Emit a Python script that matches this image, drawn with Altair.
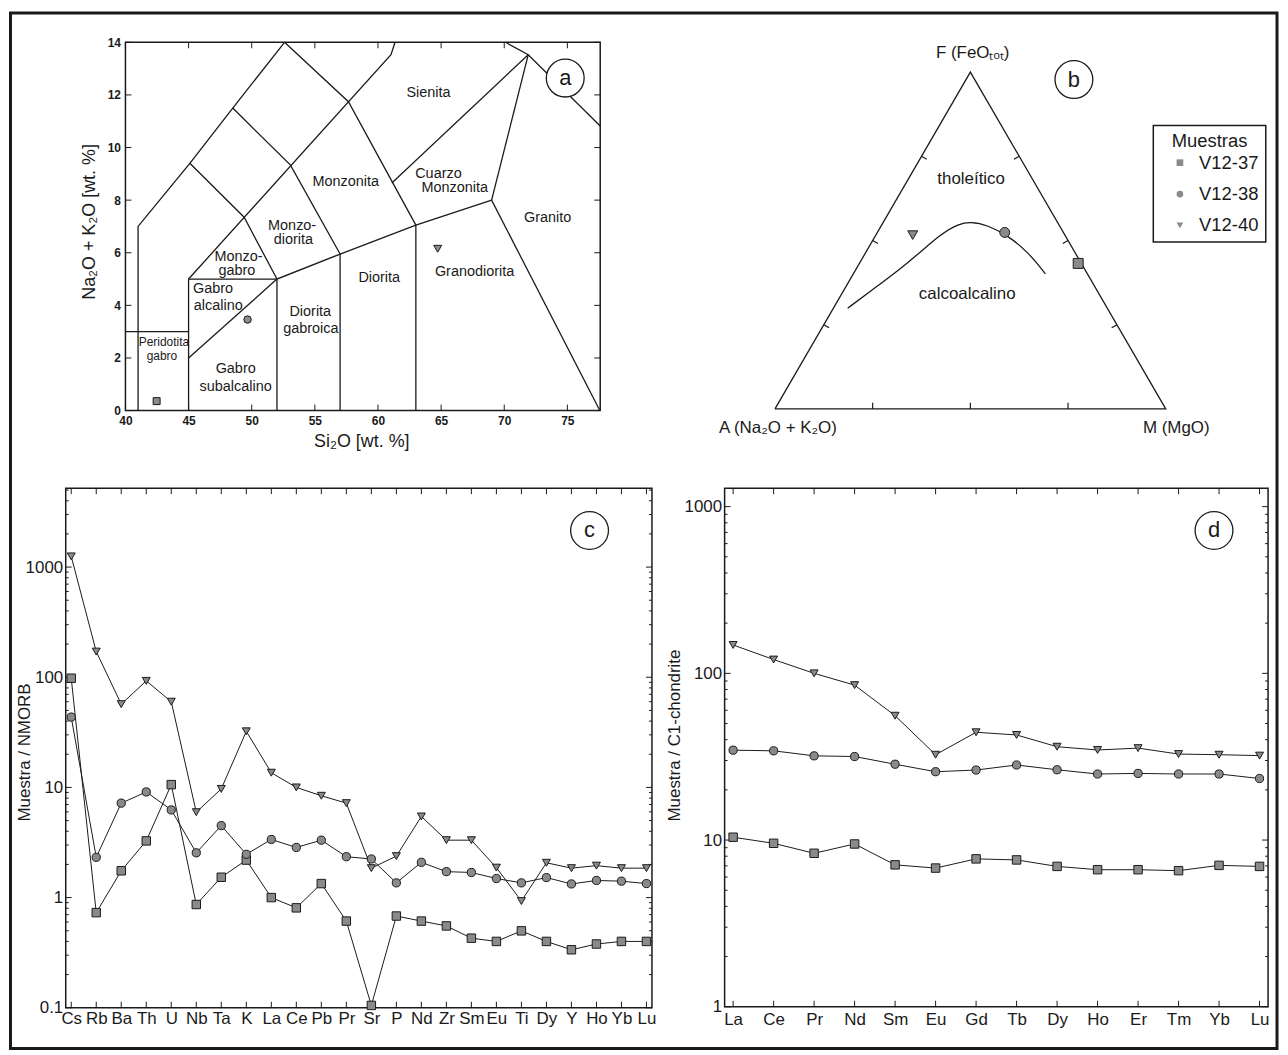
import altair as alt
import numpy as np
import pandas as pd

FONT = "Liberation Sans"
INK = "#1a1a1a"
GREY = "#8a8a8a"

SAMPLES = ["V12-37", "V12-38", "V12-40"]
SHAPES = ["square", "circle", "triangle-down"]

# ---------------- (a) TAS diagram ----------------
TAS_SIO2 = [42.47, 49.67, 64.73]
TAS_ALK = [0.36, 3.46, 6.15]

TAS_FIELD_LINES = [
    [(41, 0), (41, 7), (45.1, 9.4), (48.5, 11.5), (52.6, 14)],
    [(40, 3), (45, 3)],
    [(45, 0), (45, 5), (52, 5)],
    [(45, 2), (52, 5)],
    [(52, 0), (52, 5), (57, 5.95), (63, 7.05), (69, 8)],
    [(45, 5), (61.03, 13.53), (61.35, 14)],
    [(45.1, 9.4), (49.4, 7.35), (52, 5)],
    [(48.5, 11.5), (53.07, 9.33), (57, 5.95)],
    [(52.6, 14), (57.66, 11.74), (63, 7.05)],
    [(57, 0), (57, 5.95)],
    [(63, 0), (63, 7.05)],
    [(61.1, 8.65), (71.9, 13.53)],
    [(69, 8), (71.9, 13.53)],
    [(69, 8), (77.57, 0)],
    [(70.1, 14), (71.9, 13.53), (77.6, 10.82)],
]

TAS_LABELS = [
    ("Sienita", 64.0, 12.06),
    ("Monzonita", 57.44, 8.70),
    ("Cuarzo", 64.79, 9.0),
    ("Monzonita", 66.08, 8.47),
    ("Granito", 73.43, 7.32),
    ("Monzo-", 53.2, 7.03),
    ("diorita", 53.3, 6.50),
    ("Monzo-", 48.96, 5.84),
    ("gabro", 48.83, 5.31),
    ("Diorita", 60.1, 5.04),
    ("Granodiorita", 67.65, 5.26),
    ("Gabro", 46.94, 4.63),
    ("alcalino", 47.35, 3.97),
    ("Diorita", 54.64, 3.75),
    ("gabroica", 54.68, 3.09),
    ("Gabro", 48.73, 1.58),
    ("subalcalino", 48.73, 0.91),
]
TAS_SMALL_LABELS = [("Peridotita", 43.05, 2.60), ("gabro", 42.89, 2.07)]
TAS_X_TICKS = [40, 45, 50, 55, 60, 65, 70, 75]
TAS_Y_TICKS = [0, 2, 4, 6, 8, 10, 12, 14]
TAS_X_RANGE = [40, 77.6]
TAS_Y_RANGE = [0, 14]

# ---------------- (b) AFM diagram (ternary %) ----------------
AFM_A = [0.8, 15.0, 38.95]
AFM_F = [43.2, 52.4, 51.6]
AFM_M = [56.0, 32.6, 9.45]

CURVE_A = [66.45, 58.85, 45.3, 31.0, 25.55, 22.2, 18.3, 14.6, 11.85, 10.75]
CURVE_F = [29.9, 34.5, 42.6, 52.4, 54.9, 55.6, 54.6, 51.4, 46.3, 40.1]
CURVE_M = [3.65, 6.65, 12.1, 16.6, 19.55, 22.2, 27.1, 34.0, 41.85, 49.15]

AFM_TEXT = [
    ("F (FeOₜₒₜ)", 50.6, 91.6),
    ("tholeítico", 50.2, 59.0),
    ("calcoalcalino", 49.2, 29.6),
    ("A (Na₂O + K₂O)", 0.74, -4.97),
    ("M (MgO)", 102.7, -4.97),
]

# ---------------- (c) NMORB-normalised spider diagram ----------------
SPIDER_ELEMS = ["Cs", "Rb", "Ba", "Th", "U", "Nb", "Ta", "K", "La", "Ce", "Pb", "Pr",
                "Sr", "P", "Nd", "Zr", "Sm", "Eu", "Ti", "Dy", "Y", "Ho", "Yb", "Lu"]
SP_37 = [98, 0.73, 1.75, 3.27, 10.6, 0.865, 1.53, 2.19, 1.0, 0.807, 1.34, 0.612,
         0.105, 0.68, 0.612, 0.553, 0.428, 0.40, 0.499, 0.40, 0.336, 0.379, 0.40, 0.40]
SP_38 = [43.5, 2.32, 7.2, 9.1, 6.25, 2.55, 4.5, 2.47, 3.37, 2.85, 3.32, 2.35,
         2.24, 1.36, 2.09, 1.72, 1.69, 1.49, 1.36, 1.52, 1.33, 1.43, 1.41, 1.34]
SP_40 = [1250, 171, 57, 92.7, 60, 5.96, 9.7, 32.3, 13.6, 10.0, 8.4, 7.2,
         1.85, 2.38, 5.45, 3.32, 3.32, 1.87, 0.93, 2.07, 1.85, 1.95, 1.85, 1.85]

# ---------------- (d) chondrite-normalised REE ----------------
REE_ELEMS = ["La", "Ce", "Pr", "Nd", "Sm", "Eu", "Gd", "Tb", "Dy", "Ho", "Er", "Tm", "Yb", "Lu"]
REE_37 = [10.4, 9.56, 8.33, 9.47, 7.1, 6.79, 7.71, 7.6, 6.95, 6.64, 6.64, 6.55, 7.05, 6.95]
REE_38 = [34.6, 34.3, 32.0, 31.7, 28.5, 25.7, 26.3, 28.2, 26.4, 24.9, 25.1, 24.9, 24.9, 23.4]
REE_40 = [148, 121, 100, 85, 55.7, 32.5, 44.3, 42.7, 36.3, 34.7, 35.6, 32.8, 32.5, 32.1]

shape_scale = alt.Scale(domain=SAMPLES, range=SHAPES)
TINY = pd.DataFrame({"k": [0]})
NOFRAME = alt.ViewBackground(stroke="transparent")


def axis_cfg(**kw):
    base = dict(grid=False, domain=False, ticks=False, tickSize=0,
                labelFont=FONT, titleFont=FONT, labelColor=INK, titleColor=INK,
                titleFontWeight="normal", labelOverlap=False)
    base.update(kw)
    return alt.Axis(**base)


def point_layer(df, xenc, yenc, sizes):
    return alt.Chart(df).mark_point(filled=True, fill=GREY, stroke=INK, strokeWidth=1,
                                    opacity=1).encode(
        x=xenc, y=yenc,
        shape=alt.Shape("s:N", scale=shape_scale, legend=None),
        size=alt.Size("s:O", scale=alt.Scale(domain=SAMPLES, range=sizes), legend=None))


# ======================= panel a =======================
W_A, H_A = 537, 370
PLOT_A_W = 477
PXU_X = PLOT_A_W / (TAS_X_RANGE[1] - TAS_X_RANGE[0])
PXU_Y = H_A / (TAS_Y_RANGE[1] - TAS_Y_RANGE[0])
LEFT_EXTRA = (W_A - PLOT_A_W) / PXU_X
xa = alt.Scale(domain=[TAS_X_RANGE[0] - LEFT_EXTRA, TAS_X_RANGE[1]], nice=False, zero=False)
ya = alt.Scale(domain=TAS_Y_RANGE, nice=False, zero=False)
AX_XA = axis_cfg(values=TAS_X_TICKS, labelFontSize=12, labelFontWeight="bold", labelPadding=5,
                 title="Si₂O [wt. %]", titleFontSize=18, titleX=297, titleY=31,
                 titleBaseline="middle")
AX_YA = axis_cfg(values=TAS_Y_TICKS, labelFontSize=12, labelFontWeight="bold", labelPadding=5,
                 title="Na₂O + K₂O [wt. %]", titleFontSize=18, titleX=-36, titleY=180,
                 titleBaseline="middle", offset=-(W_A - PLOT_A_W))


def XA(f):
    return alt.X(f, scale=xa, axis=AX_XA)


def YA(f):
    return alt.Y(f, scale=ya, axis=AX_YA)


seg_rows = []
for i, line in enumerate(TAS_FIELD_LINES):
    for j, (x, y) in enumerate(line):
        seg_rows.append({"seg": i, "ord": j, "x": x, "y": y})
df_seg = pd.DataFrame(seg_rows)

a_lines = alt.Chart(df_seg).mark_line(color=INK, strokeWidth=1.3).encode(
    x=XA("x:Q"), y=YA("y:Q"), detail="seg:N", order="ord:Q")

df_frame_a = pd.DataFrame({"x1": [TAS_X_RANGE[0]], "x2": [TAS_X_RANGE[1]],
                           "y1": [TAS_Y_RANGE[0]], "y2": [TAS_Y_RANGE[1]]})
a_frame = alt.Chart(df_frame_a).mark_rect(fillOpacity=0, stroke=INK, strokeWidth=1.5).encode(
    x=XA("x1:Q"), x2="x2:Q", y=YA("y1:Q"), y2="y2:Q")

tx_len, ty_len = 6 / PXU_X, 6 / PXU_Y
tick_a = []
for v in TAS_X_TICKS:
    tick_a.append({"x1": v, "x2": v, "y1": 0, "y2": ty_len})
    tick_a.append({"x1": v, "x2": v, "y1": 14, "y2": 14 - ty_len})
for v in TAS_Y_TICKS:
    tick_a.append({"x1": 40, "x2": 40 + tx_len, "y1": v, "y2": v})
    tick_a.append({"x1": 77.6, "x2": 77.6 - tx_len, "y1": v, "y2": v})
a_ticks = alt.Chart(pd.DataFrame(tick_a)).mark_rule(color=INK, strokeWidth=1).encode(
    x=XA("x1:Q"), x2="x2:Q", y=YA("y1:Q"), y2="y2:Q")

df_ta = pd.DataFrame(TAS_LABELS, columns=["t", "x", "y"])
a_txt = alt.Chart(df_ta).mark_text(font=FONT, fontSize=14.5, color=INK, baseline="middle",
                                   align="center").encode(x=XA("x:Q"), y=YA("y:Q"), text="t:N")
df_ts = pd.DataFrame(TAS_SMALL_LABELS, columns=["t", "x", "y"])
a_txt2 = alt.Chart(df_ts).mark_text(font=FONT, fontSize=12, color=INK, baseline="middle",
                                    align="center").encode(x=XA("x:Q"), y=YA("y:Q"), text="t:N")

df_badge_a = pd.DataFrame({"x": [74.83], "y": [12.64], "t": ["a"]})
a_badge = alt.Chart(df_badge_a).mark_point(shape="circle", size=1444, filled=True, fill="white",
                                           stroke=INK, strokeWidth=1.3, opacity=1).encode(
    x=XA("x:Q"), y=YA("y:Q"))
a_letter = alt.Chart(df_badge_a).mark_text(font=FONT, fontSize=22, color=INK,
                                           baseline="middle").encode(
    x=XA("x:Q"), y=YA("y:Q"), text="t:N")

df_pa = pd.DataFrame({"s": SAMPLES, "x": TAS_SIO2, "y": TAS_ALK})
a_pts = point_layer(df_pa, XA("x:Q"), YA("y:Q"), [49, 64, 100])

# outer figure border (decoration, anchored to this first view)
outer_frame = alt.Chart(TINY).mark_rect(fillOpacity=0, stroke=INK, strokeWidth=3).encode(
    x=alt.value(-55.5), x2=alt.value(1217), y=alt.value(-29.5), y2=alt.value(1011))

panel_a = alt.layer(
    a_lines, a_frame, a_ticks, a_badge, a_letter, a_txt, a_txt2, a_pts, outer_frame
).properties(width=W_A, height=H_A, view=NOFRAME)

# ======================= panel b =======================
W_B, H_B = 553, 370
xb = alt.Scale(domain=[-12.89, 127.97], nice=False, zero=False)
yb = alt.Scale(domain=[-0.435, 94.28], nice=False, zero=False)
SQ3 = np.sqrt(3) / 2


def tern(A, F, M):
    A, F, M = (np.asarray(v, dtype=float) for v in (A, F, M))
    tot = A + F + M
    f = F / tot * 100
    m = M / tot * 100
    return m + f / 2, f * SQ3


XB = alt.X("x:Q", scale=xb, axis=None)
YB = alt.Y("y:Q", scale=yb, axis=None)

tx, ty = tern([100, 0, 0, 100], [0, 100, 0, 0], [0, 0, 100, 0])
df_tri = pd.DataFrame({"x": tx, "y": ty, "o": range(4)})
b_tri = alt.Chart(df_tri).mark_line(color=INK, strokeWidth=1.3).encode(x=XB, y=YB, order="o:Q")

tick_rows = []
L = 1.55
for k, t in enumerate([0.25, 0.5, 0.75]):
    sides = [
        ((t * 100, 0.0), (0.0, 1.0)),
        ((50 * t, 100 * SQ3 * t), (SQ3, -0.5)),
        ((100 - 50 * t, 100 * SQ3 * t), (-SQ3, -0.5)),
    ]
    for si, ((px, py), (nx, ny)) in enumerate(sides):
        tick_rows.append({"id": f"{k}-{si}", "o": 0, "x": px, "y": py})
        tick_rows.append({"id": f"{k}-{si}", "o": 1, "x": px + L * nx, "y": py + L * ny})
b_ticks = alt.Chart(pd.DataFrame(tick_rows)).mark_line(color=INK, strokeWidth=1.2).encode(
    x=XB, y=YB, detail="id:N", order="o:Q")

cx, cy = tern(CURVE_A, CURVE_F, CURVE_M)
df_curve = pd.DataFrame({"x": cx, "y": cy, "o": range(len(cx))})
b_curve = alt.Chart(df_curve).mark_line(color=INK, strokeWidth=1.3,
                                        interpolate="basis").encode(x=XB, y=YB, order="o:Q")

df_btxt = pd.DataFrame(AFM_TEXT, columns=["t", "x", "y"])
b_txt = alt.Chart(df_btxt).mark_text(font=FONT, fontSize=17, color=INK, baseline="middle",
                                     align="center").encode(x=XB, y=YB, text="t:N")

df_badge_b = pd.DataFrame({"x": [76.5], "y": [84.7], "t": ["b"]})
b_badge = alt.Chart(df_badge_b).mark_point(shape="circle", size=1444, filled=True, fill="white",
                                           stroke=INK, strokeWidth=1.3, opacity=1).encode(
    x=XB, y=YB)
b_letter = alt.Chart(df_badge_b).mark_text(font=FONT, fontSize=22, color=INK,
                                           baseline="middle").encode(x=XB, y=YB, text="t:N")

px_, py_ = tern(AFM_A, AFM_F, AFM_M)
df_pb = pd.DataFrame({"s": SAMPLES, "x": px_, "y": py_})
NB = "\u00a0\u00a0\u00a0"
legend_b = alt.Legend(
    title=NB + "Muestras" + NB, orient="none", legendX=430.7, legendY=83.7,
    titleFont=FONT, titleFontSize=18.5, titleFontWeight="normal", titleColor=INK,
    titleAnchor="middle", titlePadding=3,
    labelFont=FONT, labelFontSize=18.5, labelColor=INK, labelOffset=10,
    symbolSize=45, symbolOffset=11, symbolFillColor=GREY, symbolStrokeColor=INK,
    symbolStrokeWidth=1, symbolOpacity=1, rowPadding=12.5, padding=6.5,
    strokeColor=INK, fillColor="white")
b_pts = alt.Chart(df_pb).mark_point(filled=True, fill=GREY, stroke=INK, strokeWidth=1,
                                    opacity=1, size=100).encode(
    x=XB, y=YB, shape=alt.Shape("s:N", scale=shape_scale, legend=legend_b))

panel_b = alt.layer(b_tri, b_ticks, b_curve, b_txt, b_badge, b_letter, b_pts).properties(
    width=W_B, height=H_B, view=NOFRAME)


# ======================= panels c & d =======================
def long_df(elems, series):
    rows = []
    for s, vals in zip(SAMPLES, series):
        for i, (el, v) in enumerate(zip(elems, vals)):
            rows.append({"s": s, "el": el, "idx": i, "v": v})
    return pd.DataFrame(rows)


def log_ticks(lo_exp, hi_exp, top):
    major = [10.0 ** k for k in range(lo_exp, hi_exp + 1)]
    minor = [m * 10.0 ** k for k in range(lo_exp, hi_exp + 1) for m in range(2, 10)
             if m * 10.0 ** k <= top]
    return major, minor


def spider_panel(elems, series, pad, ydom, yvals, ytitle, titleX, titleY, W, H, letter,
                 badge_xy, lo_exp, hi_exp, xlab_pad):
    xs = alt.Scale(type="point", domain=elems, padding=pad)
    ys = alt.Scale(type="log", domain=ydom, nice=False)
    ax_x = axis_cfg(labelAngle=0, labelFontSize=17, labelPadding=xlab_pad, title=None)
    ax_y = axis_cfg(values=yvals, format="~g", labelFontSize=17, labelPadding=3,
                    title=ytitle, titleFontSize=17, titleX=titleX, titleY=titleY,
                    titleBaseline="middle")

    def XE(f):
        return alt.X(f, scale=xs, sort=elems, axis=ax_x)

    def YE(f):
        return alt.Y(f, scale=ys, axis=ax_y)

    df = long_df(elems, series)
    lines = alt.Chart(df).mark_line(color=INK, strokeWidth=1).encode(
        x=XE("el:N"), y=YE("v:Q"), detail="s:N", order="idx:Q")
    points = point_layer(df, XE("el:N"), YE("v:Q"), [72, 64, 110])
    major, minor = log_ticks(lo_exp, hi_exp, ydom[1])
    df_xt = pd.DataFrame({"el": elems})
    xticks_b = alt.Chart(df_xt).mark_rule(color=INK, strokeWidth=1).encode(
        x=XE("el:N"), y=alt.value(H), y2=alt.value(H - 6))
    xticks_t = alt.Chart(df_xt).mark_rule(color=INK, strokeWidth=1).encode(
        x=XE("el:N"), y=alt.value(0), y2=alt.value(6))
    ylayers = []
    for vals, ln in ((major, 6), (minor, 3)):
        dfy = pd.DataFrame({"v": vals})
        ylayers.append(alt.Chart(dfy).mark_rule(color=INK, strokeWidth=1).encode(
            y=YE("v:Q"), x=alt.value(0), x2=alt.value(ln)))
        ylayers.append(alt.Chart(dfy).mark_rule(color=INK, strokeWidth=1).encode(
            y=YE("v:Q"), x=alt.value(W), x2=alt.value(W - ln)))
    badge = alt.Chart(TINY).mark_point(shape="circle", size=1444, filled=True, fill="white",
                                       stroke=INK, strokeWidth=1.3, opacity=1).encode(
        x=alt.value(badge_xy[0]), y=alt.value(badge_xy[1]))
    letter_t = alt.Chart(TINY).mark_text(text=letter, font=FONT, fontSize=22, color=INK,
                                         baseline="middle").encode(
        x=alt.value(badge_xy[0]), y=alt.value(badge_xy[1]))
    return alt.layer(lines, xticks_b, xticks_t, *ylayers, points, badge, letter_t).properties(
        width=W, height=H)


W_C, H_C = 589, 522
panel_c = spider_panel(SPIDER_ELEMS, [SP_37, SP_38, SP_40], 0.22, [0.1, 5200],
                       [0.1, 1, 10, 100, 1000], "Muestra / NMORB", -41, 265,
                       W_C, H_C, "c", (526.3, 42.5), -1, 3, 3)

W_D, H_D = 546, 521
panel_d = spider_panel(REE_ELEMS, [REE_37, REE_38, REE_40], 0.21, [1, 1290],
                       [1, 10, 100, 1000], "Muestra / C1-chondrite", -50, 248,
                       W_D, H_D, "d", (491.7, 42.5), 0, 3, 5)

chart = alt.concat(
    panel_a, panel_b, panel_c, panel_d,
    columns=2, spacing={"row": 78, "column": 73}, bounds="flush", padding=0,
).resolve_scale(shape="independent", size="independent").resolve_legend(
    shape="independent", size="independent"
).configure(font=FONT, background="white").configure_view(
    stroke=INK, strokeWidth=1.5
).configure_legend(strokeWidth=1.5)

chart.save("out.html", embed_options={"renderer": "svg", "actions": False})
